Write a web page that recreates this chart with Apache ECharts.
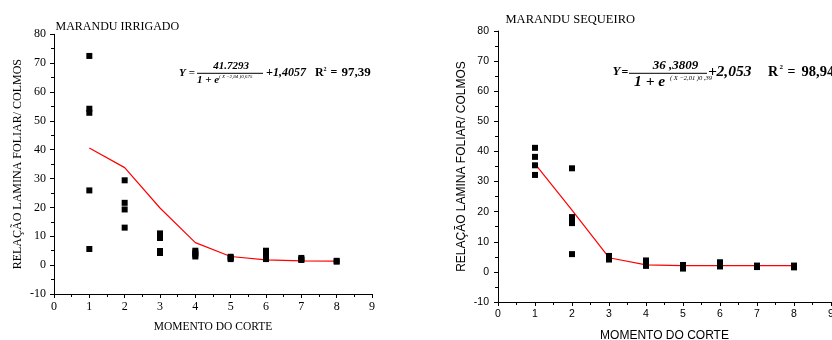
<!DOCTYPE html>
<html>
<head>
<meta charset="utf-8">
<script src="https://cdn.jsdelivr.net/npm/echarts@6/dist/echarts.min.js"></script>
<style>
html,body{margin:0;padding:0;background:#fff;}
#c{width:832px;height:340px;}
</style>
</head>
<body>
<div id="c"></div>
<script>
// ---- data ----
const cortes = [1, 2, 3, 4, 5, 6, 7, 8];
const irrigadoFit = [40.6, 33.8, 19.8, 7.8, 3.0, 1.8, 1.5, 1.4];
const sequeiroFit = [35.9, 20.5, 4.7, 2.3, 2.1, 2.05, 2.05, 2.05];
const irrigadoObs = [
  [1, 72.5], [1, 54.2], [1, 52.8], [1, 25.9], [1, 5.6],
  [2, 29.4], [2, 21.6], [2, 19.3], [2, 13.0],
  [3, 11.0], [3, 10.0], [3, 9.4], [3, 4.9], [3, 4.2],
  [4, 5.0], [4, 4.3], [4, 3.6], [4, 3.0],
  [5, 2.9], [5, 2.5], [5, 2.1],
  [6, 5.0], [6, 4.3], [6, 3.5], [6, 2.7], [6, 2.1],
  [7, 2.5], [7, 2.0], [7, 1.8],
  [8, 1.5], [8, 1.2]
];
const sequeiroObs = [
  [1, 41.2], [1, 38.2], [1, 35.4], [1, 32.2],
  [2, 34.4], [2, 18.2], [2, 17.3], [2, 16.2], [2, 5.9],
  [3, 5.3], [3, 4.7], [3, 4.1],
  [4, 3.8], [4, 3.0], [4, 2.0],
  [5, 2.3], [5, 1.7], [5, 1.1],
  [6, 3.2], [6, 2.5], [6, 1.8],
  [7, 2.1], [7, 1.6],
  [8, 2.1], [8, 1.5]
];
const xRange = [0, 9];
const yRange = [-10, 80];
const titles = ['MARANDU IRRIGADO', 'MARANDU SEQUEIRO'];
const xName = 'MOMENTO DO CORTE';
const yName = 'RELAÇÃO LAMINA FOLIAR/ COLMOS';

const SERIF = '"Liberation Serif","Times New Roman",serif';
const SANS = '"Liberation Sans",Arial,sans-serif';

function xAxis(gi, fam, fs, nameFs, labelMargin, nameGap) {
  return {
    gridIndex: gi, type: 'value', min: xRange[0], max: xRange[1], interval: 1,
    name: xName, nameLocation: 'middle', nameGap: nameGap,
    nameTextStyle: {fontFamily: fam, fontSize: nameFs, color: '#000'},
    axisLine: {show: true, onZero: false, lineStyle: {color: '#000', width: 1}},
    axisTick: {show: true, inside: false, length: 4, lineStyle: {color: '#000'}},
    minorTick: {show: true, splitNumber: 2, length: 3, lineStyle: {color: '#000'}},
    axisLabel: {fontFamily: fam, fontSize: fs, color: '#000', margin: labelMargin, hideOverlap: false},
    splitLine: {show: false}
  };
}
function yAxis(gi, fam, fs, nameFs, labelMargin, nameGap) {
  return {
    gridIndex: gi, type: 'value', min: yRange[0], max: yRange[1], interval: 10,
    name: yName, nameLocation: 'middle', nameGap: nameGap, nameRotate: 90,
    nameTextStyle: {fontFamily: fam, fontSize: nameFs, color: '#000'},
    axisLine: {show: true, onZero: false, lineStyle: {color: '#000', width: 1}},
    axisTick: {show: true, inside: false, length: 4, lineStyle: {color: '#000'}},
    minorTick: {show: true, splitNumber: 2, length: 3, lineStyle: {color: '#000'}},
    axisLabel: {fontFamily: fam, fontSize: fs, color: '#000', margin: labelMargin},
    splitLine: {show: false}
  };
}

function txt(x, y, text, font, align, extra) {
  return Object.assign({
    type: 'text', silent: true,
    style: {x: x, y: y, text: text, font: font, fill: '#000',
            align: align || 'left', textAlign: align || 'left',
            verticalAlign: 'middle', textVerticalAlign: 'middle'}
  }, extra || {});
}
function bar(x1, x2, y) {
  return {type: 'line', silent: true, shape: {x1: x1, y1: y, x2: x2, y2: y},
          style: {stroke: '#000', lineWidth: 1}};
}

const eqL = 'italic bold 11px ' + SERIF;
const eqL2 = 'italic bold 12px ' + SERIF;
const eqR = 'italic bold 13px ' + SERIF;
const eqR2 = 'italic bold 15.5px ' + SERIF;

const option = {
  backgroundColor: '#fff',
  animation: false,
  grid: [
    {left: 54, right: 460, top: 34.3, bottom: 46, outerBoundsMode: 'none', containLabel: false},
    {left: 498, right: 1, top: 31, bottom: 38, outerBoundsMode: 'none', containLabel: false}
  ],
  xAxis: [
    xAxis(0, SERIF, 12, 11.5, 7, 27),
    xAxis(1, SANS, 10.5, 12, 7, 28)
  ],
  yAxis: [
    yAxis(0, SERIF, 12, 12, 8, 30),
    yAxis(1, SANS, 10.5, 12, 9, 30)
  ],
  series: [
    {type: 'line', xAxisIndex: 0, yAxisIndex: 0, data: cortes.map((c, i) => [c, irrigadoFit[i]]),
     showSymbol: false, symbol: 'none', lineStyle: {color: '#ff0000', width: 1.2}, z: 2},
    {type: 'scatter', xAxisIndex: 0, yAxisIndex: 0, data: irrigadoObs,
     symbol: 'rect', symbolSize: 6, itemStyle: {color: '#000', opacity: 1}, z: 3},
    {type: 'line', xAxisIndex: 1, yAxisIndex: 1, data: cortes.map((c, i) => [c, sequeiroFit[i]]),
     showSymbol: false, symbol: 'none', lineStyle: {color: '#ff0000', width: 1.2}, z: 2},
    {type: 'scatter', xAxisIndex: 1, yAxisIndex: 1, data: sequeiroObs,
     symbol: 'rect', symbolSize: 6, itemStyle: {color: '#000', opacity: 1}, z: 3}
  ],
  graphic: [
    txt(55.5, 27, titles[0], '12px ' + SERIF),
    txt(505.5, 20, titles[1], '12.5px ' + SERIF),
    // left equation
    txt(179, 73, 'Y', eqL),
    txt(192, 73, '=', 'bold 11px ' + SERIF, 'center'),
    txt(231, 66.5, '41.7293', eqL, 'center'),
    bar(197, 263, 73.3),
    txt(197, 80.5, '1 + e', eqL),
    txt(219, 76.5, '( X \u22122,84 )0,675', 'italic 5px ' + SERIF),
    txt(266, 72.5, '+', eqL2),
    txt(273, 72.5, '1,4057', eqL2),
    txt(315, 73, 'R', 'bold 12px ' + SERIF),
    txt(323.5, 69, '2', 'bold 6px ' + SERIF),
    txt(334, 73, '=', 'bold 12px ' + SERIF, 'center'),
    txt(341.5, 73, '97,39', 'bold 13px ' + SERIF),
    // right equation
    txt(612.5, 72, 'Y', 'italic bold 13px ' + SERIF),
    txt(625, 72.5, '=', 'bold 12px ' + SERIF, 'center'),
    txt(675.5, 65.5, '36 ,3809', eqR, 'center'),
    bar(629, 707, 73.3),
    txt(634, 81.5, '1 + e', eqR2),
    txt(670, 78, '( X \u22122,01 )0 ,39', 'italic 6.5px ' + SERIF),
    txt(708, 71.5, '+', eqR2),
    txt(716.5, 71.5, '2,053', eqR2),
    txt(768, 72, 'R', 'bold 14px ' + SERIF),
    txt(779.5, 67.5, '2', 'bold 7px ' + SERIF),
    txt(791.5, 72, '=', 'bold 14px ' + SERIF, 'center'),
    txt(801.5, 72, '98,94', 'bold 14.5px ' + SERIF)
  ]
};

const chart = echarts.init(document.getElementById('c'), null, {renderer: 'canvas'});
chart.setOption(option);
</script>
</body>
</html>
